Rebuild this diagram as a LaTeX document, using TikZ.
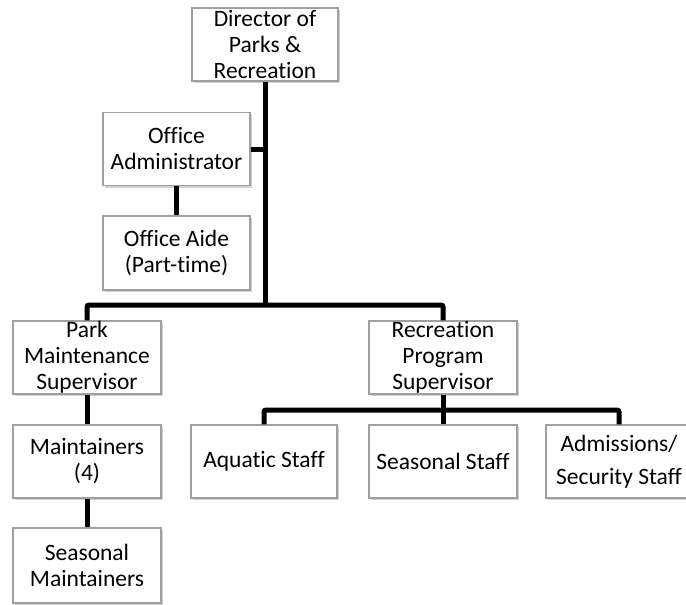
\documentclass[tikz,border=0pt]{standalone}
\usepackage{fontspec}
\setmainfont[Ligatures=NoCommon]{Carlito}
\usetikzlibrary{shadows}
\begin{document}
\begin{tikzpicture}[x=1pt,y=-1pt,
  orgbox/.style={draw=gray!75, line width=1.3pt, fill=white, inner sep=0pt,
    minimum width=146pt, minimum height=73pt, align=center,
    font=\fontsize{23.5}{26}\selectfont,
    drop shadow={shadow xshift=1.5pt, shadow yshift=-2pt, opacity=0.35, fill=gray}},
  link/.style={line width=5pt, draw=black, rounded corners=2pt}]
\path[use as bounding box] (0,0) rectangle (686,605);
\clip (0,0) rectangle (686,605);
\fill[white] (0,0) rectangle (686,605);

\node[orgbox] (dir) at (265,44.5) {Director of\\Parks \&\\Recreation};
\node[orgbox, minimum width=147pt] (admin) at (176.5,149) {Office\\Administrator};
\node[orgbox, minimum width=147pt, minimum height=74pt] (aide) at (176.5,253) {Office Aide\\(Part-time)};
\node[orgbox, minimum width=148pt] (pms) at (87,357.5) {Park\\Maintenance\\Supervisor};
\node[orgbox, minimum width=148pt] (maint) at (87,461.5) {Maintainers\\(4)};
\node[orgbox, minimum width=148pt, minimum height=75pt] (smaint) at (87,565.5) {Seasonal\\Maintainers};
\node[orgbox, minimum width=148pt] (rps) at (443,357.5) {Recreation\\Program\\Supervisor};
\node[orgbox] (aqua) at (264,461.5) {Aquatic Staff};
\node[orgbox, minimum width=148pt] (seas) at (443,461.5) {Seasonal Staff};
\node[orgbox] (adm) at (619,461.5) {Admissions/\\[7pt]Security Staff};

\coordinate (j1) at (265,305);
\coordinate (j2) at (443,410);

\draw[link] (dir.south) -- (j1);
\draw[link] (admin.east) -- (admin.east -| dir.south);
\draw[link] (admin.south) -- (aide.north);
\draw[link] (pms.north) |- (j1) -| (rps.north);
\draw[link] (pms.south) -- (maint.north);
\draw[link] (maint.south) -- (smaint.north);
\draw[link] (rps.south) -- (seas.north);
\draw[link] (aqua.north) |- (j2) -| (adm.north);
\end{tikzpicture}
\end{document}
